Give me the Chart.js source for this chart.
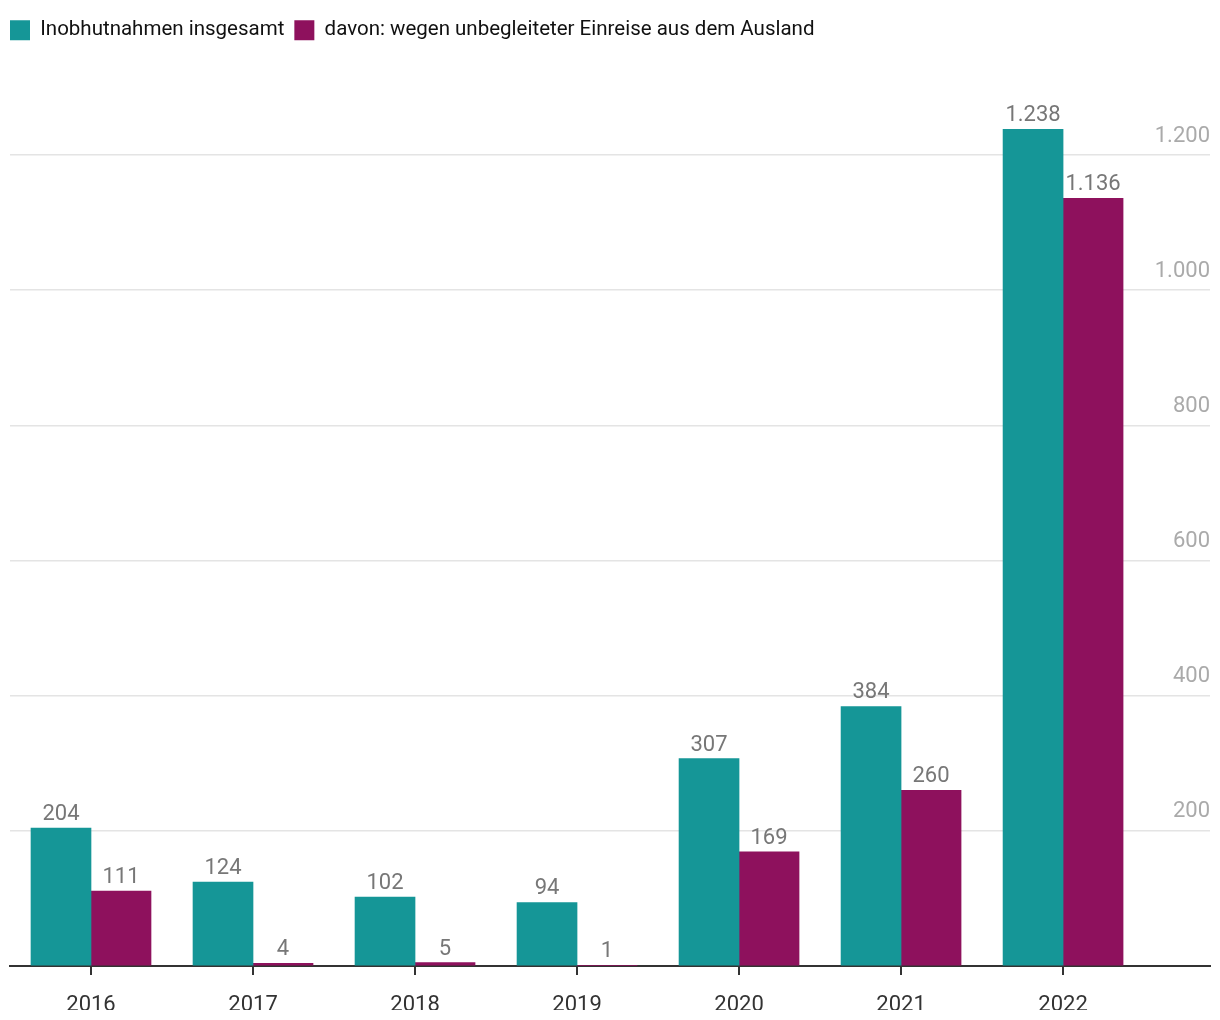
<!DOCTYPE html>
<html>
<head>
<meta charset="utf-8">
<script src="https://cdn.jsdelivr.net/npm/chart.js@4"></script>
<style>
  body { margin: 0; background: #fff; }
  #wrap { width: 1220px; height: 1010px; position: relative; }
</style>
</head>
<body>
<div id="wrap"><canvas id="chart"></canvas></div>
<script>
const years = ['2016', '2017', '2018', '2019', '2020', '2021', '2022']
const total = [204, 124, 102, 94, 307, 384, 1238]
const unaccompanied = [111, 4, 5, 1, 169, 260, 1136]
const yTicks = [0, 200, 400, 600, 800, 1000, 1200]

const FONT = 'Roboto, "Liberation Sans", sans-serif'

function fmt(v) {
  return String(v).replace(/\B(?=(\d{3})+(?!\d))/g, '.')
}

// value labels above bars
const valueLabels = {
  id: 'valueLabels',
  afterDatasetsDraw(chart) {
    const ctx = chart.ctx
    ctx.save()
    ctx.font = '22px ' + FONT
    ctx.fillStyle = '#777'
    ctx.textAlign = 'center'
    ctx.textBaseline = 'alphabetic'
    chart.data.datasets.forEach((ds, i) => {
      chart.getDatasetMeta(i).data.forEach((bar, j) => {
        ctx.fillText(fmt(ds.data[j].y), bar.x, bar.y - 8)
      })
    })
    ctx.restore()
  }
}

// legend: fixed height and flush left
const legendTweak = {
  id: 'legendTweak',
  beforeInit(chart) {
    const fit = chart.legend.fit
    chart.legend.fit = function () {
      fit.call(this)
      this.height = 70
    }
  },
  afterLayout(chart) {
    chart.legend.left = 0
  }
}

new Chart(document.getElementById('chart'), {
  type: 'bar',
  data: {
    datasets: [
      {
        label: 'Inobhutnahmen insgesamt',
        data: total.map((v, i) => ({ x: i, y: v })),
        backgroundColor: '#159697',
      },
      {
        label: 'davon: wegen unbegleiteter Einreise aus dem Ausland',
        data: unaccompanied.map((v, i) => ({ x: i, y: v })),
        backgroundColor: '#8e115d',
      },
    ],
  },
  options: {
    responsive: true,
    maintainAspectRatio: false,
    animation: false,
    layout: { padding: { top: 10, left: 10, right: 10, bottom: 0 } },
    datasets: { bar: { barThickness: 60 } },
    plugins: {
      tooltip: { enabled: false },
      legend: {
        position: 'top',
        align: 'start',
        labels: {
          boxWidth: 20,
          boxHeight: 20,
          padding: 10,
          color: '#111',
          font: { family: FONT, size: 20.5 },
        },
      },
    },
    scales: {
      x: {
        type: 'linear',
        offset: false,
        min: -0.5,
        max: 6.907,
        afterBuildTicks: (s) => { s.ticks = years.map((_, i) => ({ value: i })) },
        afterFit: (s) => { s.height = 44 },
        grid: { offset: false, drawOnChartArea: false, tickLength: 9, color: '#333', lineWidth: 2 },
        border: { color: '#333', width: 2 },
        ticks: {
          padding: 17,
          color: '#333',
          font: { family: FONT, size: 22 },
          callback: (v) => years[v],
        },
      },
      y: {
        position: 'right',
        min: 0,
        max: 1311,
        afterBuildTicks: (s) => { s.ticks = yTicks.map((v) => ({ value: v })) },
        grid: { color: '#e4e4e4', lineWidth: 1.5, drawTicks: false },
        border: { display: false },
        ticks: {
          mirror: true,
          padding: 0,
          labelOffset: -19,
          color: '#aaa',
          font: { family: FONT, size: 22 },
          callback: (v) => (v === 0 ? '' : fmt(v)),
        },
      },
    },
  },
  plugins: [valueLabels, legendTweak],
})
</script>
</body>
</html>
